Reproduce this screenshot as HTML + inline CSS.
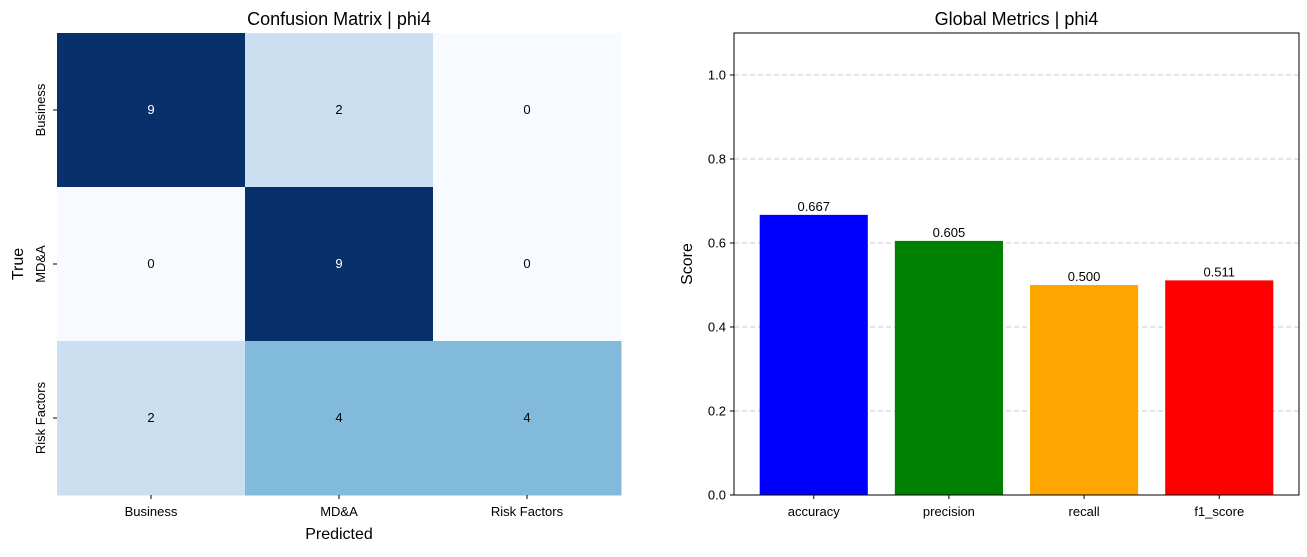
<!DOCTYPE html>
<html><head><meta charset="utf-8">
<style>
body{margin:0;background:#fff;width:1307px;height:552px;overflow:hidden}
svg text{font-family:"Liberation Sans","DejaVu Sans",sans-serif;fill:#000}
</style></head>
<body>
<svg id="chart" width="1307" height="552" viewBox="0 0 1307 552">
<g id="cm"></g>
<g id="bars"></g>
</svg>
<script>
const cmLabels = ["Business","MD&A","Risk Factors"];
const cmValues = [[9,2,0],[0,9,0],[2,4,4]];
const metricNames = ["accuracy","precision","recall","f1_score"];
const metricValues = [0.667,0.605,0.500,0.511];
const metricColors = ["#0000ff","#008000","#ffa500","#ff0000"];
const yTicks = [0.0,0.2,0.4,0.6,0.8,1.0];

const NS="http://www.w3.org/2000/svg";
function mk(parent,tag,attrs,text){const e=document.createElementNS(NS,tag);for(const k in attrs)e.setAttribute(k,attrs[k]);if(text!==undefined)e.textContent=text;parent.appendChild(e);return e;}
function blues(t){
  const stops=[[0,[247,251,255]],[0.125,[222,235,247]],[0.25,[198,219,239]],[0.375,[158,202,225]],[0.5,[107,174,214]],[0.625,[66,146,198]],[0.75,[33,113,181]],[0.875,[8,81,156]],[1,[8,48,107]]];
  for(let i=1;i<stops.length;i++){if(t<=stops[i][0]){const a=stops[i-1],b=stops[i];const f=(t-a[0])/(b[0]-a[0]);const c=a[1].map((v,j)=>Math.round(v+(b[1][j]-v)*f));return `rgb(${c})`;}}
  return "rgb(8,48,107)";
}
// Confusion matrix
const cm=document.getElementById('cm');
const L=57,T=33,W=564,H=462,n=cmLabels.length,cw=W/n,ch=H/n;
const vmax=Math.max(...cmValues.flat()),vmin=Math.min(...cmValues.flat());
cmValues.forEach((row,i)=>row.forEach((v,j)=>{
  const t=(v-vmin)/(vmax-vmin);
  const r=mk(cm,'rect',{x:L+j*cw,y:T+i*ch,width:cw+0.5,height:ch+0.5,fill:blues(t)});
  
  
  const tx=mk(cm,'text',{x:L+(j+0.5)*cw,y:T+(i+0.5)*ch+4,'text-anchor':'middle','font-size':13,style:'fill:'+(t>0.5?'#fff':'#000')},v);
  
  
}));
cmLabels.forEach((lab,j)=>{
  const x=L+(j+0.5)*cw;
  mk(cm,'line',{x1:x,x2:x,y1:T+H,y2:T+H+4,stroke:'#000'});
  const t=mk(cm,'text',{x:x,y:T+H+21,'text-anchor':'middle','font-size':13},lab);
  
  
  const y=T+(j+0.5)*ch;
  mk(cm,'line',{x1:L-4,x2:L,y1:y,y2:y,stroke:'#000'});
  const t2=mk(cm,'text',{x:0,y:0,'text-anchor':'middle','font-size':13,transform:`translate(${L-12},${y}) rotate(-90)`},lab);
  
  
});
mk(cm,'text',{x:L+W/2,y:25,'text-anchor':'middle','font-size':18,},'Confusion Matrix | phi4');
mk(cm,'text',{x:L+W/2,y:539,'text-anchor':'middle','font-size':16,},'Predicted');
mk(cm,'text',{x:0,y:0,'text-anchor':'middle','font-size':16,transform:`translate(23,${T+H/2}) rotate(-90)`,},'True');

// Bar chart
const bg=document.getElementById('bars');
const BL=734,BT=33,BW=565,BH=462,ymax=1.1;
const xmin=-0.59,xmax=metricNames.length-1+0.59;
const xs=v=>BL+(v-xmin)/(xmax-xmin)*BW;
const ys=v=>BT+BH-(v/ymax)*BH;
yTicks.forEach(t=>{
  const y=ys(t);
  if(t>0){const g=mk(bg,'line',{x1:BL,x2:BL+BW,y1:y,y2:y,stroke:'#c8c8c8','stroke-dasharray':'5,3','stroke-width':1});}
  mk(bg,'line',{x1:BL-4,x2:BL,y1:y,y2:y,stroke:'#000'});
  const tx=mk(bg,'text',{x:BL-8,y:y+4.5,'text-anchor':'end','font-size':13},t.toFixed(1));
  
  
});
const slot=xs(1)-xs(0),bw=slot*0.8;
metricNames.forEach((name,i)=>{
  const cx=xs(i),v=metricValues[i];
  const r=mk(bg,'rect',{x:cx-bw/2,y:ys(v),width:bw,height:ys(0)-ys(v),fill:metricColors[i]});
  
  
  const lt=mk(bg,'text',{x:cx,y:ys(v)-4,'text-anchor':'middle','font-size':13},v.toFixed(3));
  
  
  mk(bg,'line',{x1:cx,x2:cx,y1:BT+BH,y2:BT+BH+4,stroke:'#000'});
  const xt=mk(bg,'text',{x:cx,y:BT+BH+21,'text-anchor':'middle','font-size':13},name);
  
  
});
mk(bg,'rect',{x:BL,y:BT,width:BW,height:BH,fill:'none',stroke:'#000','stroke-width':1,});
mk(bg,'text',{x:BL+BW/2,y:25,'text-anchor':'middle','font-size':18,},'Global Metrics | phi4');
mk(bg,'text',{x:0,y:0,'text-anchor':'middle','font-size':16,transform:`translate(692,${BT+BH/2}) rotate(-90)`,},'Score');
</script>
</body></html>
